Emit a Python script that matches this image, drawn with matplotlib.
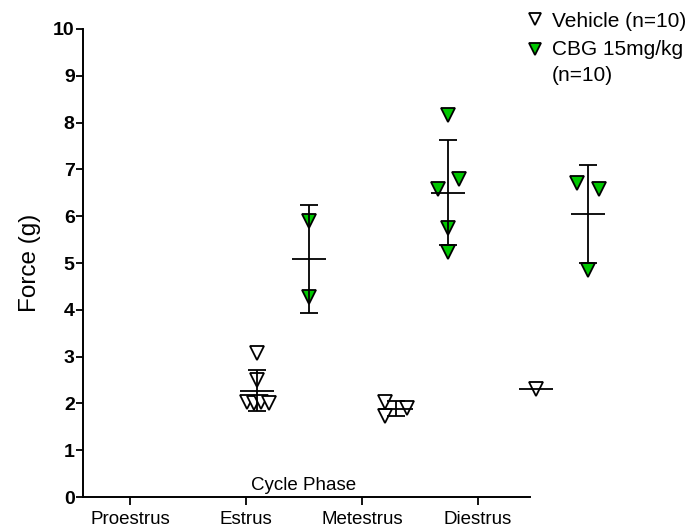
import matplotlib
matplotlib.use('Agg')
import matplotlib.pyplot as plt
import numpy as np

plt.rcParams['font.family'] = ['Liberation Sans', 'DejaVu Sans']

# ---------------- data ----------------
phases = ['Proestrus', 'Estrus', 'Metestrus', 'Diestrus']
series_labels = ['Vehicle (n=10)', 'CBG 15mg/kg\n(n=10)']

vehicle_estrus = [3.07, 2.50, 2.02, 2.00, 2.02, 2.00]
vehicle_metestrus = [2.03, 1.73, 1.91]
vehicle_diestrus = [2.31]

cbg_estrus = [5.90, 4.27]
cbg_metestrus = [8.16, 6.80, 6.58, 5.75, 5.23]
cbg_diestrus = [6.71, 6.58, 4.85]

# horizontal scatter jitter of points (pixels)
vehicle_estrus_jit = [0, 0, -10.5, -3, 4, 11.5]
vehicle_metestrus_jit = [-11, -11, 11]
vehicle_diestrus_jit = [0]
cbg_estrus_jit = [0, 0]
cbg_metestrus_jit = [0, 11, -10, 0, 0]
cbg_diestrus_jit = [-11, 11, 0]

# ---------------- layout ----------------
W, H = 686, 528
fig = plt.figure(figsize=(W / 100, H / 100), dpi=100)
ax_left, ax_right, ax_top, ax_bottom = 83, 640, 29, 497
ax = fig.add_axes([ax_left / W, 1 - ax_bottom / H,
                   (ax_right - ax_left) / W, (ax_bottom - ax_top) / H])

PX = 1 / 116.0             # data units per pixel horizontally
GROUP_STEP = 1.2
GROUP_SHIFT = 0.12
SERIES_OFF = 0.224
MEAN_HALF = 17 * PX

green = '#00c800'

vehicle_groups = [(1, vehicle_estrus, vehicle_estrus_jit),
                  (2, vehicle_metestrus, vehicle_metestrus_jit),
                  (3, vehicle_diestrus, vehicle_diestrus_jit)]
cbg_groups = [(1, cbg_estrus, cbg_estrus_jit),
              (2, cbg_metestrus, cbg_metestrus_jit),
              (3, cbg_diestrus, cbg_diestrus_jit)]


def draw(groups, sign, face):
    for idx, vals, jit in groups:
        vals = np.asarray(vals, float)
        c = GROUP_SHIFT + GROUP_STEP * idx + sign * SERIES_OFF
        xs = c + np.asarray(jit, float) * PX
        ax.plot(xs, vals, linestyle='none', marker='v', markersize=9.5,
                markerfacecolor=face, markeredgecolor='black',
                markeredgewidth=1.3, zorder=3, clip_on=False)
        m = vals.mean()
        ax.hlines(m, c - MEAN_HALF, c + MEAN_HALF, color='black',
                  linewidth=1.3, zorder=4)
        if len(vals) > 1:
            sd = vals.std(ddof=1)
            ax.errorbar([c], [m], yerr=[sd], fmt='none', ecolor='black',
                        elinewidth=1.3, capsize=6.8, capthick=1.3, zorder=4)


draw(vehicle_groups, -1, 'white')
draw(cbg_groups, +1, green)

x_left = (ax_left - 130) * PX
x_right = (ax_right - 130) * PX
ax.set_xlim(x_left, x_right)
ax.set_ylim(0, 10)

ax.spines['top'].set_visible(False)
ax.spines['right'].set_visible(False)
ax.spines['left'].set_linewidth(1.4)
ax.spines['bottom'].set_linewidth(1.4)
ax.spines['bottom'].set_bounds(x_left, (530 - 130) * PX)
ax.spines['left'].set_bounds(0, 10)

ax.set_xticks(range(len(phases)))
ax.set_xticklabels(phases, fontsize=13.5)
ax.set_yticks(range(0, 11))
ax.set_yticklabels([str(v) for v in range(0, 11)], fontsize=14,
                   fontweight='bold')
ax.tick_params(axis='x', length=6, width=1.3, pad=4)
ax.tick_params(axis='y', length=5, width=1.3, pad=1)

ax.text(1.5, 0.15, 'Cycle Phase', ha='center', va='baseline', fontsize=13.5)
fig.text(30 / W, 1 - 263 / H, 'Force (g)', rotation=90, ha='center',
         va='center', fontsize=17.5)

# legend
leg_marker_y = [19, 48.5]
leg_text_y = [27, 55]
faces = ['white', green]
for lab, my, ty, fc in zip(series_labels, leg_marker_y, leg_text_y, faces):
    fig.add_artist(plt.Line2D([535 / W], [1 - my / H], marker='v',
                              markersize=8, markerfacecolor=fc,
                              markeredgecolor='black', markeredgewidth=1.3,
                              linestyle='none', transform=fig.transFigure))
    for i, line in enumerate(lab.split('\n')):
        fig.text(552 / W, 1 - (ty + 26 * i) / H, line, ha='left',
                 va='baseline', fontsize=15)

fig.savefig('out.png', dpi=100)
